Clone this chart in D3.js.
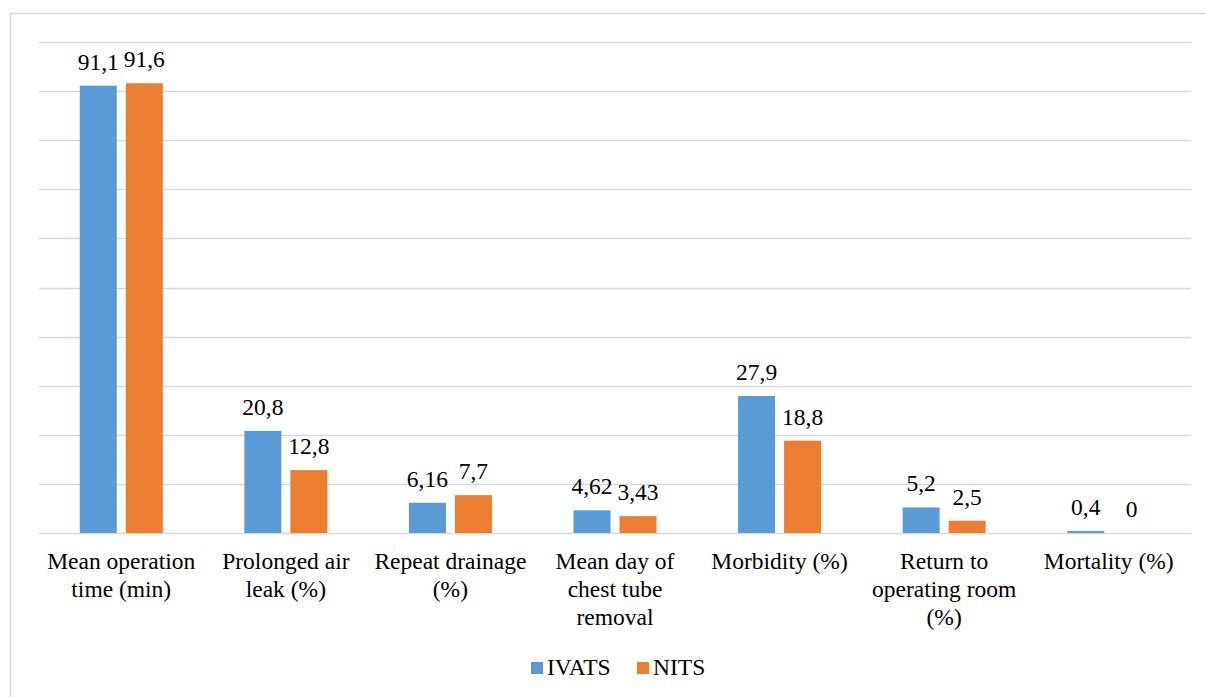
<!DOCTYPE html>
<html>
<head>
<meta charset="utf-8">
<script src="https://cdn.jsdelivr.net/npm/d3@7"></script>
<style>
  html, body { margin: 0; padding: 0; background: #fff; font-family: "Liberation Serif"; }
  svg { display: block; }
</style>
</head>
<body>
<svg id="chart" width="1206" height="697" font-family="Liberation Serif"></svg>
<script>
// Outcome measures compared between the two techniques
const categories = [
  ["Mean operation", "time (min)"],
  ["Prolonged air", "leak (%)"],
  ["Repeat drainage", "(%)"],
  ["Mean day of", "chest tube", "removal"],
  ["Morbidity (%)"],
  ["Return to", "operating room", "(%)"],
  ["Mortality (%)"]
];
const seriesNames = ["IVATS", "NITS"];
const ivats = [91.1, 20.8, 6.16, 4.62, 27.9, 5.2, 0.4];
const nits  = [91.6, 12.8, 7.7, 3.43, 18.8, 2.5, 0];
const ivatsLabels = ["91,1", "20,8", "6,16", "4,62", "27,9", "5,2", "0,4"];
const nitsLabels  = ["91,6", "12,8", "7,7", "3,43", "18,8", "2,5", "0"];
const gridTicks = [0, 10, 20, 30, 40, 50, 60, 70, 80, 90, 100];
const colors = ["#5B9BD5", "#ED7D31"];

const svg = d3.select("#chart");
const plot = { left: 39, right: 1191, top: 42, bottom: 533 };
const fontSize = 23.5;

// small helper so every label gets the same serif face and size
function styleText(sel) {
  return sel
    .style("font-family", "\"Liberation Serif\"")
    .style("font-size", fontSize + "px")
    .style("fill", "#000");
}

// chart area frame
svg.append("rect")
  .attr("x", 10.5).attr("y", 13.5)
  .attr("width", 1220).attr("height", 720)
  .attr("fill", "none").attr("stroke", "#D9D9D9").attr("stroke-width", 1.5);

const x = d3.scaleBand()
  .domain(d3.range(categories.length))
  .range([plot.left, plot.right])
  .paddingInner(0).paddingOuter(0);

const y = d3.scaleLinear().domain([0, 100]).range([plot.bottom, plot.top]);

// horizontal gridlines
svg.append("g").selectAll("line")
  .data(gridTicks)
  .join("line")
  .attr("x1", plot.left).attr("x2", plot.right)
  .attr("y1", d => Math.round(y(d)) + 0.5).attr("y2", d => Math.round(y(d)) + 0.5)
  .attr("stroke", "#D9D9D9").attr("stroke-width", 1.5);

// bars: two series within each category band
const barW = 37, barGap = 9;
const series = [
  { values: ivats, labels: ivatsLabels },
  { values: nits, labels: nitsLabels }
];
const groupW = barW * 2 + barGap;

series.forEach((s, si) => {
  const xOff = (x.bandwidth() - groupW) / 2 + si * (barW + barGap);
  const g = svg.append("g");
  g.selectAll("rect")
    .data(s.values)
    .join("rect")
    .attr("x", (d, i) => x(i) + xOff)
    .attr("y", d => y(d))
    .attr("width", barW)
    .attr("height", d => y(0) - y(d))
    .attr("fill", colors[si]);
  g.selectAll("text")
    .data(s.values)
    .join("text")
    .attr("x", (d, i) => x(i) + xOff + barW / 2)
    .attr("y", d => y(d) - 16)
    .attr("text-anchor", "middle")
    .call(styleText)
    .text((d, i) => s.labels[i]);
});

// category labels, one text element per line
const catG = svg.append("g");
categories.forEach((lines, i) => {
  catG.selectAll(null)
    .data(lines)
    .join("text")
    .attr("x", x(i) + x.bandwidth() / 2)
    .attr("y", (ln, k) => 569 + k * 28)
    .attr("text-anchor", "middle")
    .call(styleText)
    .text(ln => ln);
});

// legend
const legend = svg.append("g");
const legendItems = [
  { name: seriesNames[0], color: colors[0], x: 531 },
  { name: seriesNames[1], color: colors[1], x: 637 }
];
legendItems.forEach(it => {
  legend.append("rect")
    .attr("x", it.x).attr("y", 662)
    .attr("width", 12).attr("height", 12)
    .attr("fill", it.color);
  legend.append("text")
    .attr("x", it.x + 16).attr("y", 675)
    .call(styleText)
    .text(it.name);
});
</script>
</body>
</html>
